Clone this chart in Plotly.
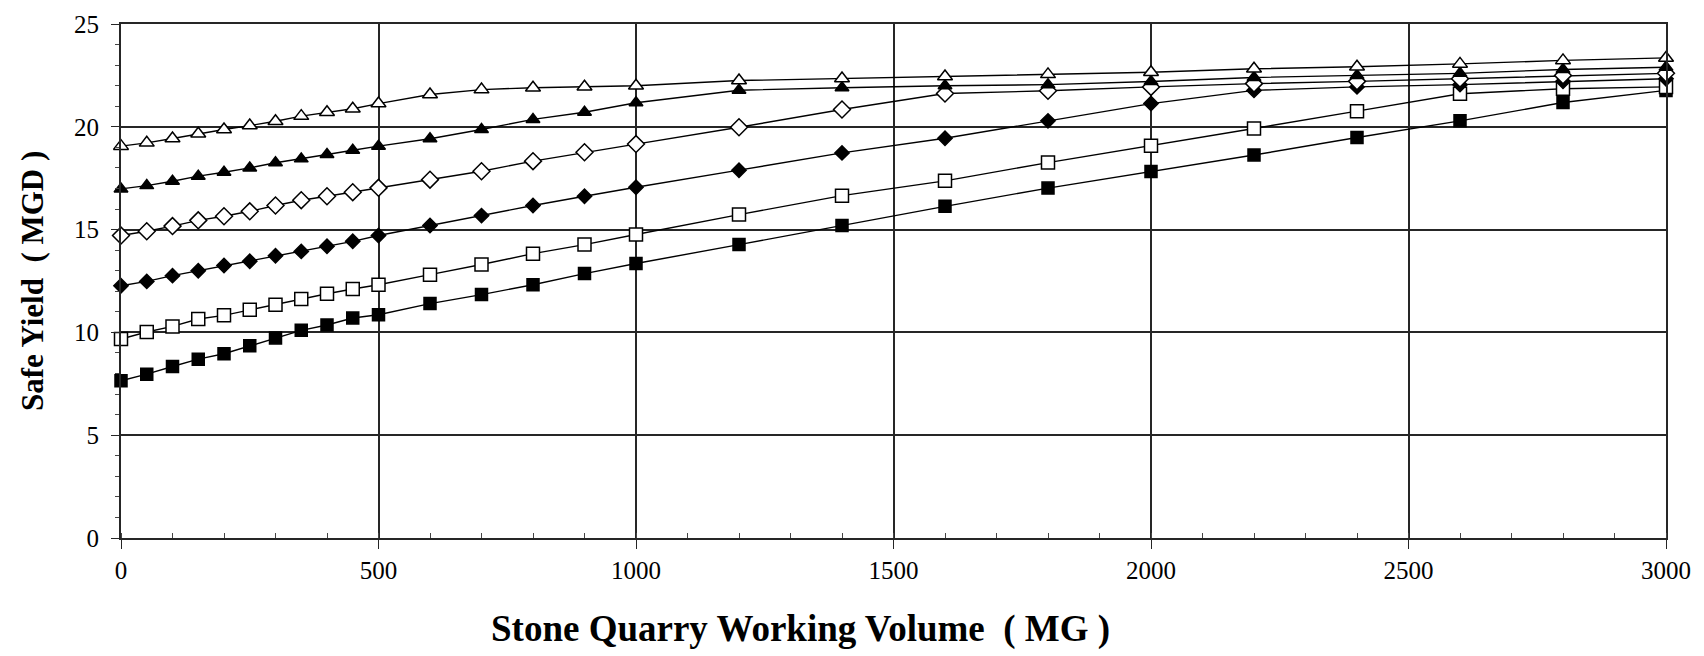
import plotly.graph_objects as go

# Stone quarry working volume (MG) at which safe yield was evaluated
volume_mg = [0, 50, 100, 150, 200, 250, 300, 350, 400, 450, 500,
             600, 700, 800, 900, 1000,
             1200, 1400, 1600, 1800, 2000, 2200, 2400, 2600, 2800, 3000]

# Safe yield (MGD) for each curve, named after its marker
yield_open_triangle = [19.06, 19.22, 19.43, 19.66, 19.87, 20.06, 20.27, 20.52, 20.71, 20.88, 21.13,
                       21.57, 21.81, 21.90, 21.95, 22.00,
                       22.25, 22.35, 22.45, 22.55, 22.65, 22.82, 22.92, 23.06, 23.23, 23.35]
yield_filled_triangle = [16.98, 17.14, 17.35, 17.60, 17.79, 18.00, 18.25, 18.44, 18.65, 18.86, 19.06,
                         19.42, 19.87, 20.36, 20.71, 21.17,
                         21.78, 21.90, 22.00, 22.05, 22.20, 22.40, 22.50, 22.60, 22.79, 22.90]
yield_open_diamond = [14.71, 14.92, 15.17, 15.45, 15.65, 15.89, 16.17, 16.43, 16.62, 16.82, 17.03,
                      17.43, 17.84, 18.33, 18.76, 19.16,
                      19.98, 20.84, 21.62, 21.75, 21.94, 22.10, 22.21, 22.34, 22.50, 22.60]
yield_filled_diamond = [12.27, 12.48, 12.76, 13.00, 13.25, 13.46, 13.73, 13.94, 14.19, 14.43, 14.71,
                        15.20, 15.68, 16.17, 16.62, 17.06,
                        17.89, 18.73, 19.44, 20.29, 21.13, 21.77, 21.94, 22.05, 22.21, 22.34]
yield_open_square = [9.68, 10.02, 10.29, 10.65, 10.83, 11.10, 11.35, 11.62, 11.88, 12.11, 12.32,
                     12.81, 13.30, 13.83, 14.27, 14.76,
                     15.73, 16.65, 17.37, 18.26, 19.08, 19.92, 20.76, 21.61, 21.85, 21.94]
yield_filled_square = [7.65, 7.97, 8.34, 8.70, 8.96, 9.35, 9.73, 10.10, 10.36, 10.70, 10.86,
                       11.40, 11.84, 12.32, 12.86, 13.35,
                       14.27, 15.20, 16.13, 17.02, 17.82, 18.63, 19.48, 20.29, 21.18, 21.77]

x_tick_values = [0, 500, 1000, 1500, 2000, 2500, 3000]
y_tick_values = [0, 5, 10, 15, 20, 25]

FONT = "Liberation Serif"
GRID = "#262626"

# (values, marker symbol, fill colour, marker size)
curves = [
    (yield_filled_square, "square", "black", 12),
    (yield_open_square, "square", "white", 13),
    (yield_filled_diamond, "diamond", "black", 11),
    (yield_open_diamond, "diamond", "white", 13),
    (yield_filled_triangle, "triangle-up", "black", 12),
    (yield_open_triangle, "triangle-up", "white", 13),
]

fig = go.Figure()
for values, symbol, fill, size in curves:
    fig.add_trace(go.Scatter(
        x=volume_mg, y=values, mode="lines+markers",
        line=dict(color="black", width=1.4),
        marker=dict(symbol=symbol, size=size, color=fill,
                    line=dict(color="black", width=1.5)),
        cliponaxis=False, showlegend=False,
    ))

fig.update_layout(
    width=1704, height=656,
    margin=dict(l=121, r=38, t=24, b=118),
    paper_bgcolor="white", plot_bgcolor="white",
    font=dict(family=FONT, color="black"),
    xaxis=dict(
        range=[0, 3000], tickvals=x_tick_values,
        showgrid=True, gridcolor=GRID, gridwidth=1.7,
        showline=True, linecolor=GRID, linewidth=1.8, mirror=True,
        ticks="outside", ticklen=9, tickcolor=GRID, tickwidth=1.4,
        minor=dict(dtick=100, ticks="inside", ticklen=5, tickcolor="#444", showgrid=False),
        tickfont=dict(family=FONT, size=25, color="black"),
        ticklabelstandoff=0, zeroline=False,
    ),
    yaxis=dict(
        range=[0, 25], tickvals=y_tick_values,
        showgrid=True, gridcolor=GRID, gridwidth=1.7,
        showline=True, linecolor=GRID, linewidth=1.8, mirror=True,
        ticks="outside", ticklen=8, tickcolor=GRID, tickwidth=1.4,
        minor=dict(dtick=1, ticks="outside", ticklen=4, tickcolor="#444", showgrid=False),
        tickfont=dict(family=FONT, size=25, color="black"),
        ticklabelstandoff=7, zeroline=False,
    ),
    annotations=[
        dict(text="<b>Stone Quarry Working Volume  ( MG )</b>",
             xref="paper", yref="paper", x=0.44, y=-0.177,
             xanchor="center", yanchor="middle", showarrow=False,
             font=dict(family=FONT, size=37, color="black")),
        dict(text="<b>Safe Yield  ( MGD )</b>",
             xref="paper", yref="paper", x=-0.0576, y=0.5,
             xanchor="center", yanchor="middle", textangle=-90, showarrow=False,
             font=dict(family=FONT, size=31, color="black")),
    ],
)

fig.write_html("out.html")
